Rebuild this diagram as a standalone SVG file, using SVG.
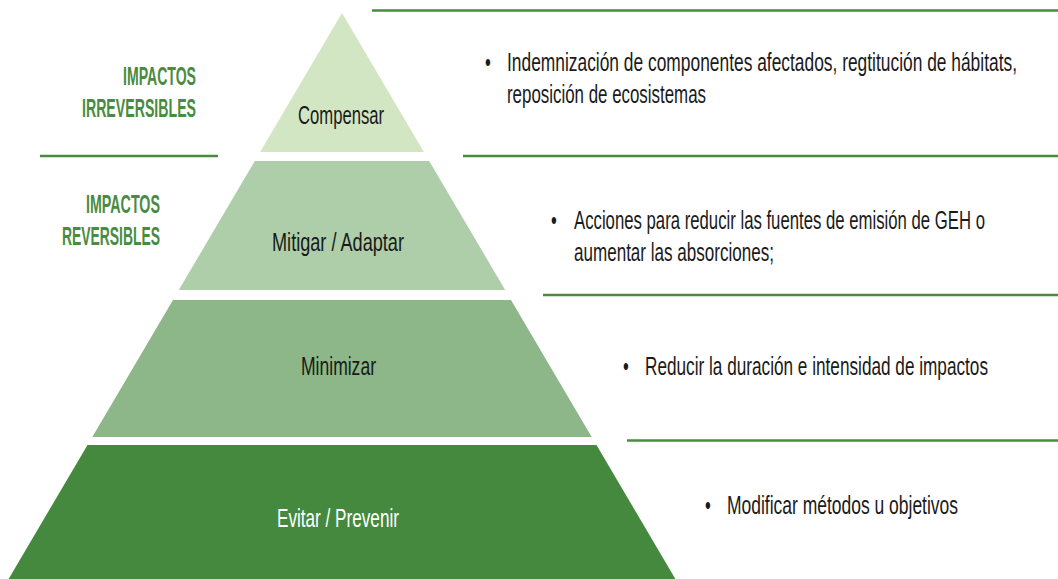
<svg xmlns="http://www.w3.org/2000/svg" width="1058" height="579" viewBox="0 0 1058 579">
<style>
.t{font-family:"Liberation Sans",Arial,sans-serif;font-size:25px;fill:#1a1a1a;}
.tw{font-family:"Liberation Sans",Arial,sans-serif;font-size:25px;fill:#ffffff;}
.h{font-family:"Liberation Sans",Arial,sans-serif;font-size:25px;font-weight:bold;fill:#4a8c3f;}
.sep{stroke:#4a8c3f;stroke-width:2.6;fill:none;}
</style>
<rect width="1058" height="579" fill="#ffffff"/>
<g id="separators">
<line class="sep" x1="372" y1="10.5" x2="1058" y2="10.5"/>
<line class="sep" x1="40" y1="156" x2="218" y2="156"/>
<line class="sep" x1="463" y1="156" x2="1058" y2="156"/>
<line class="sep" x1="543" y1="295" x2="1058" y2="295"/>
<line class="sep" x1="627" y1="440.5" x2="1058" y2="440.5"/>
</g>
<g id="heading-irreversibles">
<text class="h" transform="translate(123,85) scale(0.55,1)" x="0" y="0" textLength="132.7" lengthAdjust="spacingAndGlyphs">IMPACTOS</text>
<text class="h" transform="translate(82,117) scale(0.55,1)" x="0" y="0" textLength="207.3" lengthAdjust="spacingAndGlyphs">IRREVERSIBLES</text>
</g>
<g id="heading-reversibles">
<text class="h" transform="translate(86,213) scale(0.55,1)" x="0" y="0" textLength="134.5" lengthAdjust="spacingAndGlyphs">IMPACTOS</text>
<text class="h" transform="translate(62,245) scale(0.55,1)" x="0" y="0" textLength="178.2" lengthAdjust="spacingAndGlyphs">REVERSIBLES</text>
</g>
<g id="tier-compensar">
<polygon points="342,13 423.9,152 260.1,152" fill="#d3e6c3"/>
<text class="t" transform="translate(298,124) scale(0.66,1)" x="0" y="0" textLength="130.3" lengthAdjust="spacingAndGlyphs">Compensar</text>
</g>
<g id="tier-mitigar">
<polygon points="254.8,161 429.2,161 505.2,290 178.8,290" fill="#aecea9"/>
<text class="t" transform="translate(272,251) scale(0.66,1)" x="0" y="0" textLength="200" lengthAdjust="spacingAndGlyphs">Mitigar / Adaptar</text>
</g>
<g id="tier-minimizar">
<polygon points="173,300 511,300 591.7,437 92.3,437" fill="#8db788"/>
<text class="t" transform="translate(301,375) scale(0.66,1)" x="0" y="0" textLength="113.6" lengthAdjust="spacingAndGlyphs">Minimizar</text>
</g>
<g id="tier-evitar">
<polygon points="87.5,445 596.5,445 675.4,579 8.6,579" fill="#45893f"/>
<text class="tw" transform="translate(277,527) scale(0.66,1)" x="0" y="0" textLength="184.8" lengthAdjust="spacingAndGlyphs">Evitar / Prevenir</text>
</g>
<g id="desc-compensar">
<text class="t" transform="translate(485,71) scale(0.66,1)" x="0" y="0">•</text>
<text class="t" transform="translate(507,71) scale(0.66,1)" x="0" y="0" textLength="772.7" lengthAdjust="spacingAndGlyphs">Indemnización de componentes afectados, regtitución de hábitats,</text>
<text class="t" transform="translate(507,103) scale(0.66,1)" x="0" y="0" textLength="301.5" lengthAdjust="spacingAndGlyphs">reposición de ecosistemas</text>
</g>
<g id="desc-mitigar">
<text class="t" transform="translate(551,229) scale(0.66,1)" x="0" y="0">•</text>
<text class="t" transform="translate(574,229) scale(0.66,1)" x="0" y="0" textLength="622.7" lengthAdjust="spacingAndGlyphs">Acciones para reducir las fuentes de emisión de GEH o</text>
<text class="t" transform="translate(574,261) scale(0.66,1)" x="0" y="0" textLength="303" lengthAdjust="spacingAndGlyphs">aumentar las absorciones;</text>
</g>
<g id="desc-minimizar">
<text class="t" transform="translate(623,375) scale(0.66,1)" x="0" y="0">•</text>
<text class="t" transform="translate(645,375) scale(0.66,1)" x="0" y="0" textLength="519.7" lengthAdjust="spacingAndGlyphs">Reducir la duración e intensidad de impactos</text>
</g>
<g id="desc-evitar">
<text class="t" transform="translate(705,514) scale(0.66,1)" x="0" y="0">•</text>
<text class="t" transform="translate(727,514) scale(0.66,1)" x="0" y="0" textLength="350" lengthAdjust="spacingAndGlyphs">Modificar métodos u objetivos</text>
</g>
</svg>
